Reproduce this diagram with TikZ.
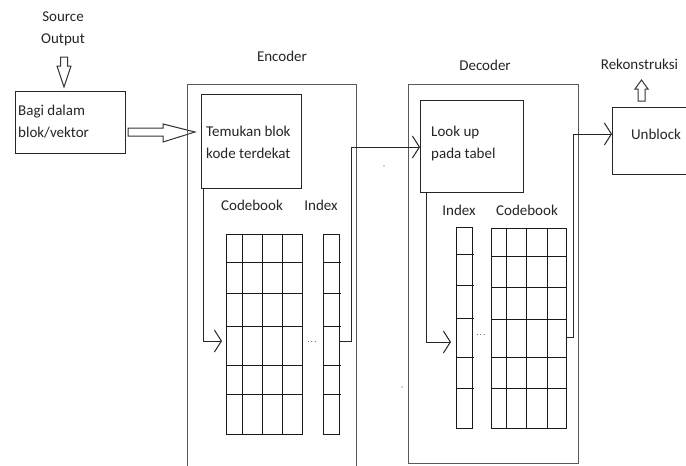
\documentclass[tikz,border=0pt]{standalone}
\usepackage{fontspec}
\setmainfont{Carlito}
\usetikzlibrary{arrows.meta}
\begin{document}
\begin{tikzpicture}[x=1pt,y=-1pt,
  font=\fontsize{15}{22}\selectfont, text=black!85,
  box/.style={draw=black!85, line width=1pt, inner sep=0pt, anchor=north west},
  outer/.style={draw=black!65, line width=1.3pt, inner sep=0pt, anchor=north west},
  lbl/.style={inner sep=0pt, align=left},
  conn/.style={draw=black!85, line width=1pt},
  vee/.style={conn, -{Straight Barb[length=7pt,width=22pt,line width=1pt]}},
  hollow/.style={draw=black!80, line width=1pt, fill=white, line join=miter},
  gridln/.style={draw=black!90, line width=0.9pt},
  gridbox/.style={draw=black!90, line width=0.9pt, inner sep=0pt, anchor=north west}]
\useasboundingbox (0,0) rectangle (686,466);
\clip (0,0) rectangle (686,466);
\fill[white] (0,0) rectangle (686,466);

% source
\node[lbl, align=center] (src) at (63,28.5) {Source\\Output};
\node[box, minimum width=110pt, minimum height=62pt] (bagi) at (15,91) {};
\node[lbl, anchor=west] (bagiT) at (18,121.5) {Bagi dalam\\blok/vektor};
\draw[hollow] (60.5,57) -- (67.5,57) -- (67.5,66) -- (71,66) -- (64,87) -- (57,66) -- (60.5,66) -- cycle;
\draw[hollow] (128,128) -- (163,128) -- (163,124) -- (195,132) -- (163,142) -- (163,136) -- (128,136) -- cycle;

% encoder
\node[lbl] (encT) at (282,56) {Encoder};
\node[outer, minimum width=169pt, minimum height=400pt] (enc) at (187,84) {};
\node[box, minimum width=100pt, minimum height=94pt] (tem) at (201,94) {};
\node[lbl, anchor=west] (temT) at (206,142) {Temukan blok\\kode terdekat};
\node[lbl] (cbET) at (252,205) {Codebook};
\node[lbl] (ixET) at (321,205) {Index};
\node[gridbox, minimum width=76pt, minimum height=200pt] (cbE) at (226,234) {};
\foreach \x in {242,262,282} \draw[gridln] (\x,234) -- (\x,434);
\foreach \y in {262,293,326,365,394} \draw[gridln] (227,\y) -- (302,\y);
\node[gridbox, minimum width=16pt, minimum height=200pt] (ixE) at (323,234) {};
\foreach \y in {262,293,326,365,394} \draw[gridln] (323,\y) -- (341,\y);
\node[lbl] (dotsE) at (312,342) {\fontsize{8}{8}\selectfont .\,.\,.};

% decoder
\node[lbl] (decT) at (485,65) {Decoder};
\node[outer, minimum width=170pt, minimum height=379pt] (dec) at (408,84) {};
\node[box, minimum width=103pt, minimum height=92pt] (look) at (420,100) {};
\node[lbl, anchor=west] (lookT) at (431,143.5) {Look up\\pada tabel};
\node[lbl] (ixDT) at (459,210) {Index};
\node[lbl] (cbDT) at (527,210) {Codebook};
\node[gridbox, minimum width=16pt, minimum height=201pt] (ixD) at (456,227) {};
\foreach \y in {254,285,318,357,388} \draw[gridln] (457,\y) -- (474,\y);
\node[gridbox, minimum width=75pt, minimum height=200pt] (cbD) at (491,228) {};
\foreach \x in {506,526,547} \draw[gridln] (\x,228) -- (\x,428);
\foreach \y in {256,287,319,357,388} \draw[gridln] (492,\y) -- (566,\y);
\node[lbl] (dotsD) at (481,335) {\fontsize{8}{8}\selectfont .\,.\,.};

% unblock
\node[lbl] (rekT) at (639.5,64) {Rekonstruksi};
\node[box, minimum width=88pt, minimum height=67pt] (unb) at (612,107) {};
\node[lbl] (unbT) at (656,134) {Unblock};
\draw[hollow] (638,101) -- (645,101) -- (645,89) -- (648,89) -- (641.5,80) -- (635,89) -- (638,89) -- cycle;

% connectors
\coordinate (aE) at (222,341);
\coordinate (eOut) at (339,341);
\coordinate (eUp) at (351,147);
\coordinate (aD) at (451,342);
\coordinate (dOut) at (566,337);
\coordinate (dUp) at (573,134);
\draw[vee] ([xshift=2pt]tem.south west) |- (aE);
\draw[vee] (eOut) -| (eUp) -- (eUp -| look.west);
\draw[vee] ([xshift=6pt]look.south west) |- (aD);
\draw[vee] (dOut) -| (dUp) -- (dUp -| unb.west);

% stray marks
\fill[black!70] (384,166) circle (0.7pt);
\fill[black!70] (402,387) circle (0.7pt);
\end{tikzpicture}
\end{document}
